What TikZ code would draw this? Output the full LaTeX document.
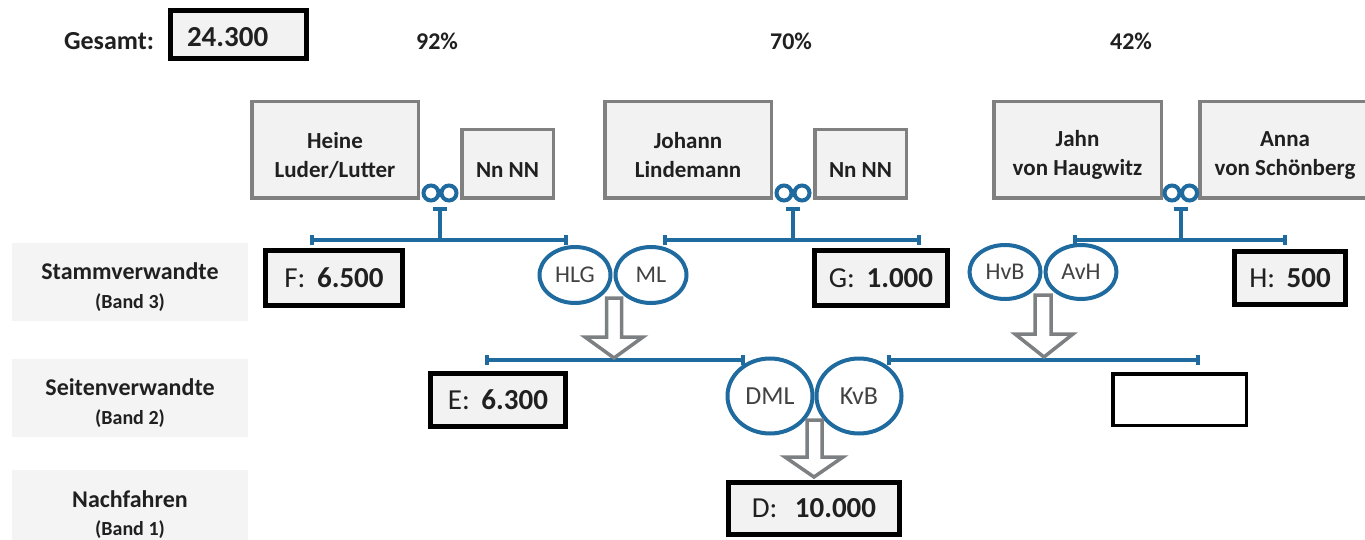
\documentclass[tikz,border=0pt]{standalone}
\usepackage{fontspec}
\setmainfont{Carlito}
\usetikzlibrary{arrows.meta,shapes.geometric}
\definecolor{bl}{RGB}{31,107,160}
\definecolor{boxfill}{RGB}{242,242,242}
\definecolor{bandfill}{RGB}{244,244,244}
\definecolor{gborder}{RGB}{128,128,128}
\definecolor{txt}{RGB}{32,32,32}
\definecolor{arrgrey}{RGB}{125,128,130}
\begin{document}
\begin{tikzpicture}[x=1pt,y=-1pt,
  every node/.style={text=txt, inner sep=0pt, outer sep=0pt},
  personbox/.style={draw=gborder, line width=3.5pt, fill=boxfill},
  nametxt/.style={align=center, font=\fontsize{23}{29}\selectfont\bfseries},
  valbox/.style={draw=black, line width=5pt, fill=boxfill, font=\fontsize{29}{34}\selectfont},
  bandbox/.style={fill=bandfill, minimum width=236pt, minimum height=78pt},
  bandtxt/.style={font=\fontsize{24}{28}\selectfont\bfseries},
  bandsub/.style={font=\fontsize{20}{24}\selectfont\bfseries},
  pcttxt/.style={font=\fontsize{24}{28}\selectfont\bfseries},
  ring/.style={circle, draw=bl, line width=4pt, minimum size=15pt},
  kid/.style={ellipse, draw=bl, line width=4pt, fill=white, minimum width=71pt, minimum height=56pt, font=\fontsize{24}{28}\selectfont, text=txt!85},
  bigkid/.style={kid, minimum width=85pt, minimum height=75pt, font=\fontsize{26}{30}\selectfont},
  link/.style={draw=bl, line width=4pt},
  famline/.style={link, {Bar[width=10pt]}-{Bar[width=10pt]}},
  stemline/.style={link, -{Bar[width=14pt]}},
  hollow/.style={draw=arrgrey, line width=3.5pt, fill=white, line join=miter},
]
\useasboundingbox (0,0) rectangle (1365,540);
\fill[white] (0,0) rectangle (1365,540);

% ---- top line
\node[font=\fontsize{26}{30}\selectfont\bfseries] (gesamt) at (109,41) {Gesamt:};
\node[draw=black, line width=5pt, fill=boxfill, minimum width=136pt, minimum height=48pt] (tot) at (238,34.5) {};
\node[anchor=west, font=\fontsize{29}{34}\selectfont\bfseries] (totv) at (187,37) {24.300};
\node[pcttxt] (p92) at (437,41) {92\%};
\node[pcttxt] (p70) at (791,41) {70\%};
\node[pcttxt] (p42) at (1131,41) {42\%};

% ---- band labels
\node[bandbox] (b3) at (130,282) {};
\node[bandtxt] (b3a) at (130,271) {Stammverwandte};
\node[bandsub] (b3b) at (130,303) {(Band 3)};
\node[bandbox] (b2) at (130,397.5) {};
\node[bandtxt] (b2a) at (130,387) {Seitenverwandte};
\node[bandsub] (b2b) at (130,419) {(Band 2)};
\node[bandbox] (b1) at (130,508.5) {};
\node[bandtxt] (b1a) at (130,499) {Nachfahren};
\node[bandsub] (b1b) at (130,530) {(Band 1)};

% ---- persons
\node[personbox, minimum width=166.5pt, minimum height=96.5pt] (p1) at (335,150) {};
\node[nametxt] (p1t) at (335,155) {Heine\\Luder/Lutter};
\node[personbox, minimum width=91.5pt, minimum height=68.5pt] (n1) at (507.5,164) {};
\node[nametxt] (n1t) at (507.5,170) {Nn NN};
\node[personbox, minimum width=166.5pt, minimum height=96.5pt] (p2) at (688,150) {};
\node[nametxt] (p2t) at (688,155) {Johann\\Lindemann};
\node[personbox, minimum width=91.5pt, minimum height=68.5pt] (n2) at (860.5,164) {};
\node[nametxt] (n2t) at (860.5,170) {Nn NN};
\node[personbox, minimum width=167.5pt, minimum height=96.5pt] (p3) at (1077.5,150) {};
\node[nametxt] (p3t) at (1077.5,155) {Jahn\\von Haugwitz};
\node[personbox, minimum width=170.5pt, minimum height=96.5pt] (p4) at (1285,150) {};
\node[nametxt] (p4t) at (1285,155) {Anna\\von Schönberg};

% ---- marriage rings
\node[ring] (r1a) at (431,193) {};
\node[ring] (r1b) at (449,193) {};
\node[ring] (r2a) at (784,193) {};
\node[ring] (r2b) at (802,193) {};
\node[ring] (r3a) at (1172,193) {};
\node[ring] (r3b) at (1189.5,193) {};

% ---- family lines band 3
\coordinate (l1a) at (310,240); \coordinate (l1b) at (568,240);
\coordinate (s1) at (440,240);  \coordinate (t1) at (440,207);
\coordinate (l2a) at (663,240); \coordinate (l2b) at (921,240);
\coordinate (s2) at (793,240);  \coordinate (t2) at (793,207);
\coordinate (l3a) at (1073,240); \coordinate (l3b) at (1287,240);
\coordinate (s3) at (1180.5,240); \coordinate (t3) at (1180.5,207);
\draw[famline] (l1a) -- (l1b);
\draw[stemline] (s1) -- (t1);
\draw[famline] (l2a) -- (l2b);
\draw[stemline] (s2) -- (t2);
\draw[famline] (l3a) -- (l3b);
\draw[stemline] (s3) -- (t3);

% ---- band 2 lines
\coordinate (m1a) at (485,360); \coordinate (m1b) at (745,360);
\coordinate (m2a) at (887,360); \coordinate (m2b) at (1200,360);
\draw[famline] (m1a) -- (m1b);
\draw[famline] (m2a) -- (m2b);

% ---- value boxes
\node[valbox, minimum width=137pt, minimum height=55pt] (F) at (334,278) {F:\hspace{.4em}\textbf{6.500}};
\node[valbox, minimum width=133pt, minimum height=55pt] (G) at (881,278) {G:\hspace{.4em}\textbf{1.000}};
\node[valbox, minimum width=111pt, minimum height=53pt] (H) at (1290,278) {H:\hspace{.4em}\textbf{500}};
\node[valbox, minimum width=135pt, minimum height=53pt] (E) at (498,400) {E:\hspace{.4em}\textbf{6.300}};
\node[draw=black, line width=3.5pt, fill=white, minimum width=133.5pt, minimum height=51.5pt] (X) at (1179.5,399.5) {};
\node[valbox, minimum width=171pt, minimum height=52pt] (D) at (814,508.5) {D:\hspace{.6em}\textbf{10.000}};

% ---- children ellipses
\node[kid] (hlg) at (575,275) {HLG};
\node[kid] (ml) at (651,275) {ML};
\node[kid, minimum height=54pt] (hvb) at (1005,272) {HvB};
\node[kid, minimum height=54pt] (avh) at (1081,272) {AvH};
\node[bigkid] (dml) at (770,396) {DML};
\node[bigkid] (kvb) at (859,396) {KvB};

% ---- hollow arrows
\draw[hollow] (606.5,298) -- (606.5,337) -- (585,337) -- (614,358) -- (643,337) -- (621.5,337) -- (621.5,298) -- cycle;
\draw[hollow] (1035,295) -- (1035,334) -- (1015,334) -- (1044,357) -- (1073,334) -- (1051,334) -- (1051,295) -- cycle;
\draw[hollow] (807,420) -- (807,457) -- (785,457) -- (814,477) -- (843,457) -- (822,457) -- (822,420) -- cycle;
\end{tikzpicture}
\end{document}
